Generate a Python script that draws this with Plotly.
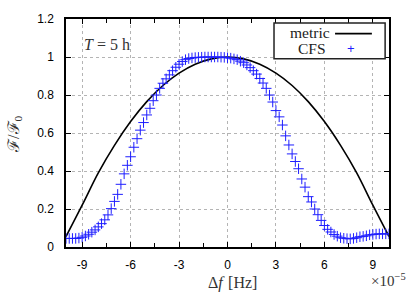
import plotly.graph_objects as go

# x in units of 1e-5 Hz
cfs_x = [round(-10 + 0.2 * i, 1) for i in range(101)]
cfs_y = [
    0.045, 0.045, 0.045, 0.045, 0.047, 0.051, 0.058, 0.067, 0.078, 0.090,   # -10 .. -8.2
    0.106, 0.123, 0.143, 0.169, 0.202, 0.240, 0.277, 0.330, 0.385, 0.430,   # -8.0 .. -6.2
    0.475, 0.525, 0.570, 0.615, 0.655, 0.695, 0.730, 0.770, 0.800, 0.835,   # -6.0 .. -4.2
    0.862, 0.885, 0.906, 0.928, 0.946, 0.962, 0.976, 0.986, 0.992, 0.995,   # -4.0 .. -2.2
    0.997, 0.998, 0.999, 1.000, 1.000, 1.000, 1.000, 1.000, 0.999, 0.998,   # -2.0 .. -0.2
    0.996, 0.994, 0.990, 0.986, 0.978, 0.970, 0.958, 0.944, 0.928, 0.910,   # 0.0 .. 1.8
    0.887, 0.863, 0.835, 0.800, 0.763, 0.718, 0.685, 0.642, 0.585, 0.537,   # 2.0 .. 3.8
    0.490, 0.450, 0.412, 0.358, 0.315, 0.265, 0.237, 0.200, 0.170, 0.140,   # 4.0 .. 5.8
    0.113, 0.093, 0.079, 0.066, 0.057, 0.049, 0.046, 0.044, 0.043, 0.045,   # 6.0 .. 7.8
    0.049, 0.054, 0.056, 0.059, 0.064, 0.066, 0.068, 0.069, 0.069, 0.069,   # 8.0 .. 9.8
    0.069,                                                                  # 10.0
]

metric_x = [-10, -9, -8, -7, -6, -5, -4, -3, -2, -1, 0, 1, 2, 3, 4, 5, 6, 7, 8, 9, 10]
metric_y = [0.055, 0.22, 0.39, 0.535, 0.66, 0.765, 0.85, 0.915, 0.962, 0.99, 1.0,
            0.99, 0.962, 0.915, 0.85, 0.765, 0.66, 0.535, 0.39, 0.22, 0.055]

xtick_vals = [-9, -6, -3, 0, 3, 6, 9]
xtick_text = ["-9", "-6", "-3", "0", "3", "6", "9"]
ytick_vals = [0, 0.2, 0.4, 0.6, 0.8, 1.0, 1.2]
ytick_text = ["0", "0.2", "0.4", "0.6", "0.8", "1", "1.2"]

SERIF = "Liberation Serif, DejaVu Serif, serif"
SANS = "Liberation Sans, Arial, sans-serif"
BLUE = "rgb(30,30,255)"

fig = go.Figure()
fig.add_trace(go.Scatter(x=metric_x, y=metric_y, mode="lines", name="metric",
                         line=dict(color="black", width=1.6, shape="spline")))
fig.add_trace(go.Scatter(x=cfs_x, y=cfs_y, mode="markers", name="CFS",
                         marker=dict(symbol="cross-thin", size=7.5, color=BLUE,
                                     line=dict(color=BLUE, width=1))))

axis_common = dict(showline=True, linecolor="black", linewidth=1.5, mirror="allticks",
                   ticks="inside", ticklen=5, tickcolor="black", tickwidth=1,
                   showgrid=True, gridcolor="#b4b4b4", griddash="dot", gridwidth=1,
                   zeroline=False, tickfont=dict(family=SANS, size=12, color="black"))

fig.update_xaxes(range=[-10, 10], tickvals=xtick_vals, ticktext=xtick_text,
                 ticklabelstandoff=6,
                 minor=dict(dtick=1.5, tick0=0, ticks="inside", ticklen=4,
                            tickcolor="black", showgrid=False),
                 **axis_common)
fig.update_yaxes(range=[0, 1.2], tickvals=ytick_vals, ticktext=ytick_text,
                 ticklabelstandoff=8, **axis_common)

# legend drawn manually (text left, sample right)
fig.add_shape(type="rect", xref="paper", yref="paper", x0=0.644, x1=0.988, y0=0.826, y1=0.983,
              line=dict(color="#222", width=1.5), fillcolor="white", layer="above")
fig.add_shape(type="line", xref="paper", yref="paper", x0=0.833, x1=0.947, y0=0.936, y1=0.936,
              line=dict(color="black", width=1.6), layer="above")
annos = [
    dict(text="metric", x=0.823, y=0.940, xanchor="right", yanchor="middle",
         font=dict(family=SERIF, size=15.5, color="#222")),
    dict(text="CFS", x=0.812, y=0.872, xanchor="right", yanchor="middle",
         font=dict(family=SERIF, size=15.5, color="#222")),
    dict(text="+", x=0.881, y=0.870, xanchor="center", yanchor="middle",
         font=dict(family=SANS, size=13, color=BLUE)),
    dict(text="<i>T</i>\u2005=\u20055\u2005h", x=0.05, y=0.89, xanchor="left", yanchor="middle",
         font=dict(family=SERIF, size=16, color="#333")),
    dict(text="\u0394<i>f</i>\u2004[Hz]", x=0.517, y=-0.157, xanchor="center", yanchor="middle",
         font=dict(family=SERIF, size=16, color="#333")),
    dict(text="\u00d710<sup>\u22125</sup>", x=1.059, y=-0.145, xanchor="right", yanchor="middle",
         font=dict(family=SERIF, size=15, color="#333")),
    dict(text="\u2131/\u2131<sub>0</sub>", x=-0.158, y=0.496, xanchor="center", yanchor="middle",
         textangle=-90, font=dict(family=SERIF, size=16, color="#333")),
]
for a in annos:
    fig.add_annotation(xref="paper", yref="paper", showarrow=False, **a)

fig.update_layout(width=415, height=292, margin=dict(l=66, r=26, t=17, b=45),
                  plot_bgcolor="white", paper_bgcolor="white", showlegend=False)

fig.write_html("out.html", config={"displayModeBar": False},
               post_script="document.body.style.margin='0';document.body.style.overflow='hidden';")
